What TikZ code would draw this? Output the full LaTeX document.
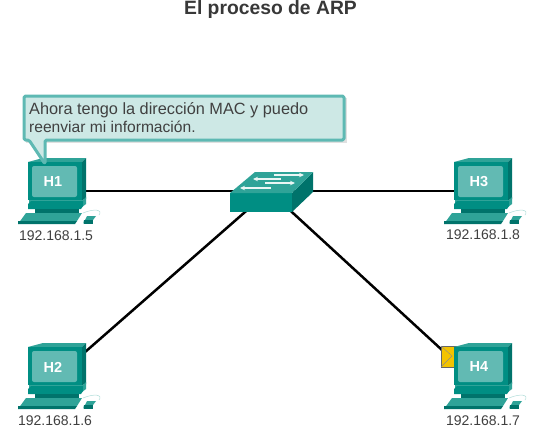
\documentclass[tikz,border=0pt]{standalone}
\usepackage{fontspec}
\setmainfont{Liberation Sans}
\usetikzlibrary{arrows.meta,shadows}
\definecolor{tealA}{HTML}{008E83}
\definecolor{tealB}{HTML}{00736B}
\definecolor{tealC}{HTML}{62BAB3}
\definecolor{tealD}{HTML}{2FA398}
\definecolor{bubbleFill}{HTML}{CDE8E5}
\definecolor{bubbleLine}{HTML}{5EB9B3}
\definecolor{txt}{HTML}{404040}
\definecolor{env}{HTML}{F3C300}
\tikzset{
  x=1pt,y=-1pt,
  netlink/.style={line width=2.5pt,black},
  pclabel/.style={font=\bfseries\fontsize{14.5}{14}\selectfont,text=white,inner sep=0pt},
  iplabel/.style={font=\fontsize{14}{14}\selectfont,text=txt,inner sep=0pt},
  bubbletext/.style={font=\fontsize{16.3}{18}\selectfont,text=txt,inner sep=0pt,align=left,anchor=north west},
  pics/pc/.style={code={
    % offsets relative to the H label centre
    \fill[tealD] (-25,-20) -- (-10,-24) -- (33,-24) -- (29,-20) -- cycle;
    \fill[tealB] (29,-20) -- (33,-24) -- (33,17) -- (29,18) -- cycle;
    \fill[tealA] (-25,-20) rectangle (29,18);
    \fill[tealC,rounded corners=2pt] (-21,-16) rectangle (24,15);
    \fill[tealD] (-24,18) -- (30,18) -- (33,15) -- (33,22) -- (29,25) -- (-24,25) -- cycle;
    \fill[tealA] (-25,22) -- (-22,19) -- (30,19) -- (30,24) -- (28,27) -- (-25,27) -- cycle;
    \fill[tealB] (-18,27) rectangle (26,31);
    \fill[tealD] (-35,42) -- (-27,31) -- (29,31) -- (24,39) -- (-33,39) -- cycle;
    \fill[tealB] (-35,39) -- (24,39) -- (22,42) -- (-35,42) -- cycle;
    \fill[tealD] (30,42) -- (34,34) -- (43,34) -- (40,38) -- (31,38) -- cycle;
    \fill[tealB] (31,38) rectangle (40,42);
    \draw[tealC!50,line width=.5pt] (30,31) .. controls (42,26) and (50,28) .. (46,33);
  }},
  switchtop/.style={fill=tealD},
  arrowline/.style={white!92!tealA,line width=1.5pt,-{Stealth[length=5pt,width=4.5pt]}}
}
\begin{document}
\begin{tikzpicture}
\useasboundingbox (0,0) rectangle (544,440);
\fill[white] (0,0) rectangle (544,440);

\coordinate (p1) at (60,191);
\coordinate (p2) at (60,374);
\coordinate (p3) at (480,191);
\coordinate (p4) at (479,384);
\coordinate (sw) at (269,191);

\draw[netlink] (p1) -- (sw);
\draw[netlink] (p3) -- (sw);
\draw[netlink] (p2) -- (sw);
\draw[netlink] (p4) -- (sw);

% switch
\fill[tealA] (230,193) rectangle (292,212);
\fill[tealB] (292,193) -- (313,172) -- (313,192) -- (292,212) -- cycle;
\fill[switchtop] (230,193) -- (255,172) -- (313,172) -- (292,193) -- cycle;
\draw[arrowline] (274,175) -- (304,175);
\draw[arrowline] (281,179) -- (253,179);
\draw[arrowline] (265,183) -- (295,183);
\draw[arrowline] (271,188) -- (240,188);

% envelope
\fill[env,draw=black!60,line width=.5pt] (441,346) rectangle (456,367);
\draw[black!45,line width=.4pt] (441,346) -- (452,356) -- (441,367);

% computers
\pic at (53,182) {pc};
\pic at (479,182) {pc};
\pic at (53,367) {pc};
\pic at (479,367) {pc};

\node[pclabel] (h1) at (53,182) {H1};
\node[pclabel] (h3) at (479,182) {H3};
\node[pclabel] (h2) at (53,367) {H2};
\node[pclabel] (h4) at (479,367) {H4};
\node[iplabel] (ip1) at (56,236) {192.168.1.5};
\node[iplabel] (ip3) at (483,235) {192.168.1.8};
\node[iplabel] (ip2) at (55,420.5) {192.168.1.6};
\node[iplabel] (ip4) at (483,420.5) {192.168.1.7};

% callout
\fill[black!12] (26,98) -- (347,98) -- (347,143) -- (26,143) -- cycle;
\draw[fill=bubbleFill,draw=bubbleLine,line width=3pt,line join=round,rounded corners=1.5pt]
  (24,96) -- (344,96) -- (344,140) -- (45,140) -- (45,164) -- (29,140) -- (24,140) -- cycle;
\node[bubbletext] (say) at (29,102.5) {Ahora tengo la dirección MAC y puedo\\{\fontsize{15.6}{18}\selectfont reenviar mi información.}};

% title
\node[font=\bfseries\fontsize{19.3}{20}\selectfont,text=black!78,inner sep=0pt,anchor=base] (title) at (270.5,14.2) {El proceso de ARP};
\end{tikzpicture}
\end{document}
